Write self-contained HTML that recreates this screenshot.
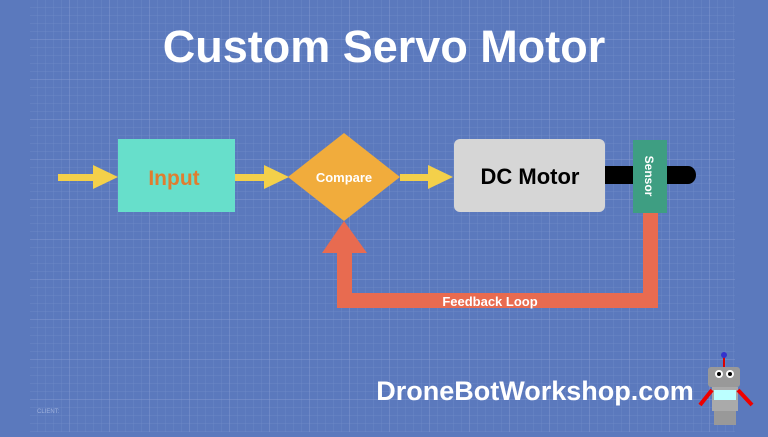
<!DOCTYPE html>
<html><head><meta charset="utf-8"><style>
html,body{margin:0;padding:0;}
body{width:768px;height:432px;overflow:hidden;background:#5b79bd;font-family:"Liberation Sans",sans-serif;}
</style></head><body>
<svg width="768" height="432" viewBox="0 0 768 432" xmlns="http://www.w3.org/2000/svg">
<defs>
<pattern id="g" x="30" y="0" width="8" height="8" patternUnits="userSpaceOnUse">
<path d="M8 0V8M0 8H8" stroke="#7a93cc" stroke-width="0.7" fill="none" opacity="0.7"/>
</pattern>
<pattern id="G" x="30" y="0" width="40" height="40" patternUnits="userSpaceOnUse">
<path d="M40 0V40M0 40H40" stroke="#8aa0d4" stroke-width="1" fill="none" opacity="0.7"/>
</pattern>
</defs>
<rect width="768" height="432" fill="#5b79bd"/>
<rect x="30" y="0" width="705" height="432" fill="url(#g)"/>
<rect x="30" y="0" width="705" height="432" fill="url(#G)"/>
<text x="384" y="62" text-anchor="middle" fill="#fff" font-weight="bold" font-size="45">Custom Servo Motor</text>
<g fill="#f4d04a">
<rect x="58" y="174" width="38" height="7"/><polygon points="93,165 118,177 93,189"/>
<rect x="235" y="174" width="32" height="7"/><polygon points="264,165 289,177 264,189"/>
<rect x="400" y="174" width="31" height="7"/><polygon points="428,165 453,177 428,189"/>
</g>
<rect x="118" y="139" width="117" height="73" fill="#67dfcb"/>
<text x="174" y="185" text-anchor="middle" fill="#e07d2f" font-weight="bold" font-size="21">Input</text>
<polygon points="344,133 400,177 344,221 288,177" fill="#f1ac3c"/>
<text x="344" y="182" text-anchor="middle" fill="#fff" font-weight="bold" font-size="13">Compare</text>
<rect x="454" y="139" width="151" height="73" rx="6" fill="#d6d6d6"/>
<text x="530" y="184" text-anchor="middle" fill="#000" font-weight="bold" font-size="22">DC Motor</text>
<path d="M605 166H688a8 9 0 0 1 0 18H605Z" fill="#000"/>
<g fill="#e86b50">
<rect x="643" y="210" width="15" height="98"/>
<rect x="337" y="293" width="321" height="15"/>
<rect x="337" y="250" width="15" height="58"/>
<polygon points="322,253 344,221 367,253"/>
</g>
<rect x="633" y="140" width="34" height="73" fill="#3e9e82"/>
<text transform="translate(645,176) rotate(90)" text-anchor="middle" fill="#fff" font-weight="bold" font-size="12">Sensor</text>
<text x="490" y="306" text-anchor="middle" fill="#fff" font-weight="bold" font-size="13">Feedback Loop</text>
<text x="535" y="400" text-anchor="middle" fill="#fff" font-weight="bold" font-size="27">DroneBotWorkshop.com</text>
<text x="37" y="413" fill="#9fb2dd" font-size="6">CLIENT:</text>
<g>
<line x1="724" y1="356" x2="724" y2="368" stroke="#d00" stroke-width="2"/>
<circle cx="724" cy="355" r="3" fill="#33c"/>
<rect x="708" y="367" width="32" height="20" rx="3" fill="#999"/>
<circle cx="719" cy="374" r="4" fill="#fff"/><circle cx="730" cy="374" r="4" fill="#fff"/>
<circle cx="719" cy="374" r="2" fill="#000"/><circle cx="730" cy="374" r="2" fill="#000"/>
<rect x="712" y="387" width="26" height="24" fill="#aaa"/>
<rect x="714" y="390" width="22" height="10" fill="#bff"/>
<path d="M712 390L700 405M738 390L752 405" stroke="#e00" stroke-width="4"/>
<rect x="714" y="411" width="22" height="14" fill="#999"/>
</g>
</svg>
</body></html>
